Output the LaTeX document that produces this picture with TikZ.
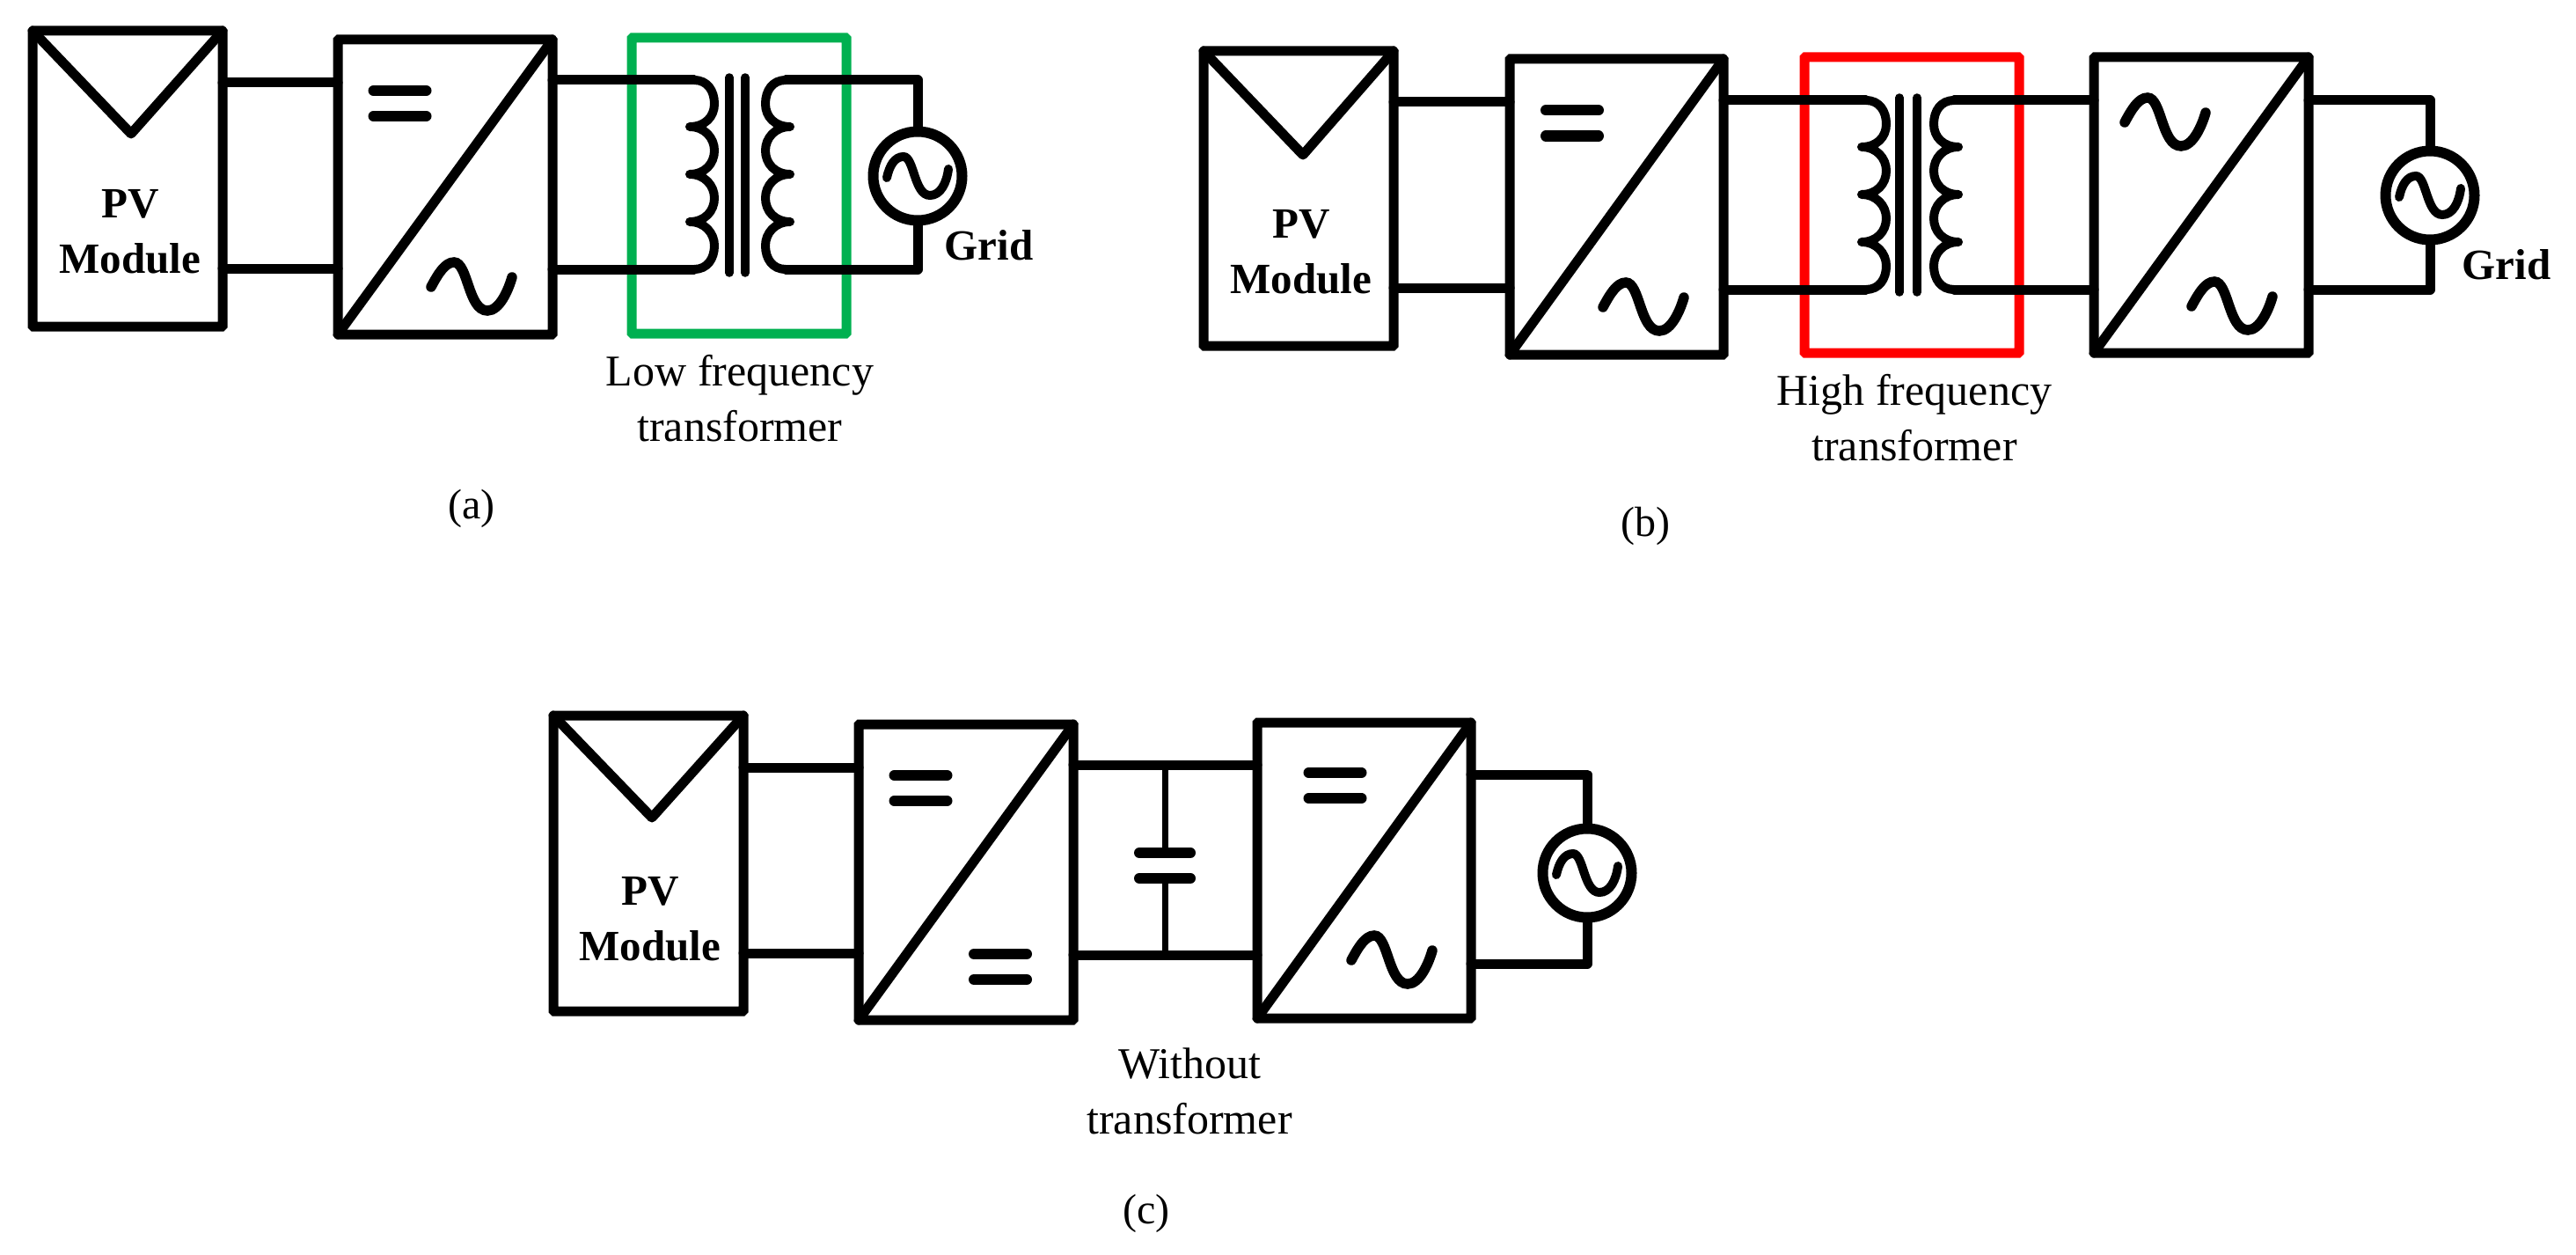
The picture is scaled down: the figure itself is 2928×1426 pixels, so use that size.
\documentclass[tikz,border=0pt]{standalone}
\usepackage{fontspec}
\setmainfont{Liberation Serif}
\tikzset{
  x=1pt,y=-1pt,
  wire/.style={line width=11pt,line cap=round,line join=round},
  thinwire/.style={line width=7pt},
  corebar/.style={line width=9.5pt,line cap=round},
  blockbox/.style={draw,line width=11pt,outer sep=0pt,inner sep=0pt,rounded corners=1pt},
  srcnode/.style={circle,draw,line width=12pt,minimum size=101pt,inner sep=0pt,outer sep=0pt},
  lbl/.style={font=\fontsize{50}{63}\selectfont,align=center,inner sep=0pt},
  blbl/.style={font=\fontsize{49}{63}\selectfont\bfseries,align=center,inner sep=0pt},
  capt/.style={font=\fontsize{48}{56}\selectfont,inner sep=0pt,anchor=base},
  pics/sinewave/.style={code={
    \draw[line width=11.5pt,line cap=round] (-46,1) .. controls (-38,-14) and (-30,-27) .. (-20,-27)
      .. controls (-4,-27) and (-4,28) .. (18,28) .. controls (32,28) and (42,4) .. (46,-10);}},
  pics/acsine/.style={code={
    \draw[line width=10pt,line cap=round] (-35,2) .. controls (-32,-12) and (-26,-22) .. (-16,-22)
      .. controls (-4,-22) and (-4,22) .. (14,22) .. controls (26,22) and (33,8) .. (35,-8);}},
  pics/dcbars/.style={code={
    \draw[line width=12pt,line cap=round] (-30,-14.5) -- (30,-14.5) (-30,14.5) -- (30,14.5);}},
  pics/coil/.style={code={
    \coordinate (-top) at (0,0);
    \coordinate (-bot) at (0,215);
    \draw[line width=10pt,line cap=round,line join=round]
      (0,0) .. controls (15,0) and (23,12) .. (23,27) .. controls (23,42) and (12,53) .. (-5,53)
      .. controls (12,53) and (23,66) .. (23,80) .. controls (23,95) and (12,107) .. (-5,107)
      .. controls (12,107) and (23,120) .. (23,134) .. controls (23,149) and (12,161) .. (-5,161)
      .. controls (12,161) and (23,174) .. (23,188) .. controls (23,203) and (15,215) .. (0,215);}},
}
\begin{document}
\begin{tikzpicture}
\useasboundingbox (0,0) rectangle (2928,1426);
% ---------- (a)
\node[blockbox,minimum width=216pt,minimum height=336pt] (pvA) at (145,203) {};
\node[blockbox,minimum width=244pt,minimum height=335pt] (cA) at (506,212.5) {};
\draw[line width=11pt,color={rgb,255:red,0;green,176;blue,80},rounded corners=1pt] (718,43) rectangle (962,379);
\coordinate (triA) at (149,152);
\draw[wire] (pvA.north west) -- (triA) -- (pvA.north east);
\draw[wire] (cA.north east) -- (cA.south west);
\pic at (454.5,117.5) {dcbars};
\pic at (536,325) {sinewave};
\coordinate (a1) at (0,94); \coordinate (a2) at (0,305);
\draw[wire] (pvA.east |- a1) -- (cA.west |- a1);
\draw[wire] (pvA.east |- a2) -- (cA.west |- a2);
\pic (clA) at (789,91) {coil};
\pic[xscale=-1] (crA) at (893,91) {coil};
\draw[corebar] (829,88) -- (829,310) (847,88) -- (847,310);
\node[srcnode] (srcA) at (1043,200) {};
\pic at (srcA.center) {acsine};
\draw[wire] (cA.east |- clA-top) -- (clA-top);
\draw[wire] (cA.east |- clA-bot) -- (clA-bot);
\draw[wire] (crA-top) -- (srcA.north |- crA-top) -- (srcA.north);
\draw[wire] (crA-bot) -- (srcA.south |- crA-bot) -- (srcA.south);
\node[blbl] (pvtA) at (148,263) {PV\\Module};
\node[blbl] (gridA) at (1124,279) {Grid};
\node[lbl] (labA) at (841,453) {Low frequency\\transformer};
\node[capt] (capA) at (536,589) {(a)};
% ---------- (b)
\node[blockbox,minimum width=216pt,minimum height=335pt] (pvB) at (1476,225.5) {};
\node[blockbox,minimum width=243pt,minimum height=336pt] (cB) at (1837.5,235) {};
\node[blockbox,minimum width=244pt,minimum height=336pt] (dB) at (2502,233) {};
\draw[line width=11pt,red,rounded corners=1pt] (2051,65) rectangle (2295,401);
\coordinate (triB) at (1481,176);
\draw[wire] (pvB.north west) -- (triB) -- (pvB.north east);
\draw[wire] (cB.north east) -- (cB.south west);
\draw[wire] (dB.north east) -- (dB.south west);
\pic at (1787,140) {dcbars};
\pic at (1868,348) {sinewave};
\pic at (2461,138) {sinewave};
\pic at (2537,347) {sinewave};
\coordinate (b1) at (0,116); \coordinate (b2) at (0,327);
\draw[wire] (pvB.east |- b1) -- (cB.west |- b1);
\draw[wire] (pvB.east |- b2) -- (cB.west |- b2);
\pic (clB) at (2121,114) {coil};
\pic[xscale=-1] (crB) at (2221,114) {coil};
\draw[corebar] (2159,111) -- (2159,332) (2179,111) -- (2179,332);
\node[srcnode] (srcB) at (2762,222) {};
\pic at (srcB.center) {acsine};
\draw[wire] (cB.east |- clB-top) -- (clB-top);
\draw[wire] (cB.east |- clB-bot) -- (clB-bot);
\draw[wire] (crB-top) -- (dB.west |- crB-top);
\draw[wire] (crB-bot) -- (dB.west |- crB-bot);
\draw[wire] (dB.east |- crB-top) -- (srcB.north |- crB-top) -- (srcB.north);
\draw[wire] (dB.east |- crB-bot) -- (srcB.south |- crB-bot) -- (srcB.south);
\node[blbl] (pvtB) at (1479,286) {PV\\Module};
\node[blbl] (gridB) at (2849,301) {Grid};
\node[lbl] (labB) at (2176,475) {High frequency\\transformer};
\node[capt] (capB) at (1870,609) {(b)};
% ---------- (c)
\node[blockbox,minimum width=216pt,minimum height=336pt] (pvC) at (737,981) {};
\node[blockbox,minimum width=244pt,minimum height=336pt] (cC) at (1098,991) {};
\node[blockbox,minimum width=243pt,minimum height=336pt] (dC) at (1550.5,989) {};
\coordinate (triC) at (741,929);
\draw[wire] (pvC.north west) -- (triC) -- (pvC.north east);
\draw[wire] (cC.north east) -- (cC.south west);
\draw[wire] (dC.north east) -- (dC.south west);
\pic at (1046.5,895.5) {dcbars};
\pic at (1137,1098.5) {dcbars};
\pic at (1517.5,892.5) {dcbars};
\pic at (1582,1090) {sinewave};
\coordinate (c1) at (0,872); \coordinate (c2) at (0,1083);
\coordinate (c3) at (0,869); \coordinate (c4) at (0,1085);
\coordinate (c5) at (0,880); \coordinate (c6) at (0,1095);
\draw[wire] (pvC.east |- c1) -- (cC.west |- c1);
\draw[wire] (pvC.east |- c2) -- (cC.west |- c2);
\draw[wire] (cC.east |- c3) -- (dC.west |- c3);
\draw[wire] (cC.east |- c4) -- (dC.west |- c4);
\coordinate (capT) at (1324,969); \coordinate (capB) at (1324,998);
\draw[thinwire] (capT) -- (capT |- c3);
\draw[thinwire] (capB) -- (capB |- c4);
\draw[line width=12pt,line cap=round] ([xshift=-29pt]capT) -- ([xshift=29pt]capT);
\draw[line width=12pt,line cap=round] ([xshift=-29pt]capB) -- ([xshift=29pt]capB);
\node[srcnode] (srcC) at (1804,992) {};
\pic at (srcC.center) {acsine};
\draw[wire] (dC.east |- c5) -- (srcC.north |- c5) -- (srcC.north);
\draw[wire] (dC.east |- c6) -- (srcC.south |- c6) -- (srcC.south);
\node[blbl] (pvtC) at (739,1044) {PV\\Module};
\node[lbl] (labC) at (1352,1240) {Without\\transformer};
\node[capt] (capC) at (1303,1390) {(c)};
\end{tikzpicture}
\end{document}
